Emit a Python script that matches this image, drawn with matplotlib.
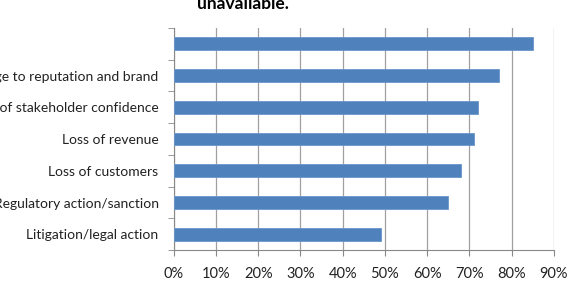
import matplotlib.pyplot as plt
import numpy as np

plt.rcParams['font.family'] = ['Lato', 'DejaVu Sans']

# --- DATA ---
categories = ['Litigation/legal action', 'Regulatory action/sanction', 'Loss of customers',
              'Loss of revenue', 'Loss of stakeholder confidence',
              'Damage to reputation and brand', '']
values = [49, 65, 68, 71, 72, 77, 85]
xticks = [0, 10, 20, 30, 40, 50, 60, 70, 80, 90]

fig = plt.figure(figsize=(5.68, 2.82), dpi=100)
ax = fig.add_axes([0.306, 0.113, 0.669, 0.788])

y = np.arange(len(categories))
ax.barh(y, values, height=0.4, color='#4F81BD', edgecolor='#6A96CC', linewidth=0.6, zorder=3)

ax.set_xlim(0, 90)
ax.set_ylim(-0.5, len(categories) - 0.5)
ax.set_xticks(xticks)
ax.set_xticklabels([f'{t}%' for t in xticks], fontsize=10.5, color='#222222')
ax.set_yticks(y)
ax.set_yticklabels(categories, fontsize=10, color='#222222')
ax.set_yticks(np.arange(-0.5, len(categories)), minor=True)

ax.tick_params(axis='y', which='major', length=0, pad=11)
ax.tick_params(axis='y', which='minor', length=4, color='#888888')
ax.tick_params(axis='x', length=4, color='#888888', pad=8)

ax.grid(axis='x', color='#A0A0A0', linewidth=0.9, zorder=0)
for s in ['top', 'right']:
    ax.spines[s].set_visible(False)
for s in ['left', 'bottom']:
    ax.spines[s].set_color('#888888')

fig.text(0.428, 0.985, 'unavailable.', fontsize=12.5, fontweight='bold', ha='center', va='center')

fig.savefig('out.png', dpi=100)
